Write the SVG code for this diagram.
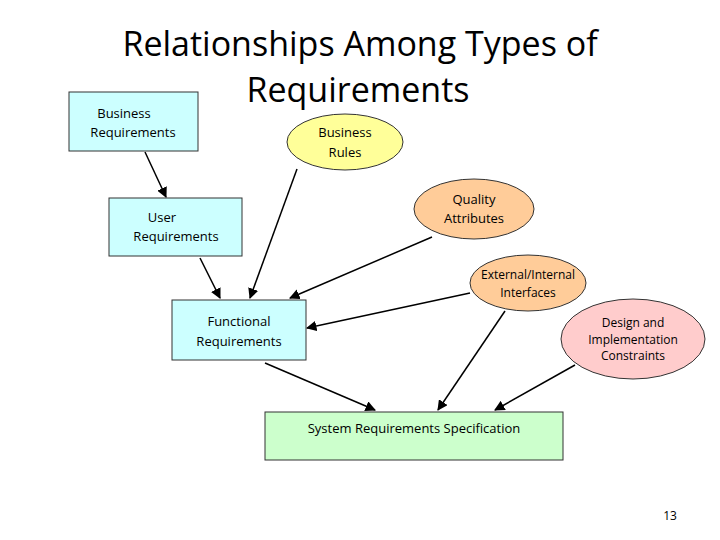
<svg xmlns="http://www.w3.org/2000/svg" width="720" height="540" viewBox="0 0 720 540">
<style>
text{font-family:"Open Sans","DejaVu Sans",sans-serif;fill:#000;text-anchor:middle}
.t{font-size:34px}
.n{font-size:13px}
.s{font-size:12px}
.b{stroke:#333;stroke-width:1}
line{stroke:#000;stroke-width:1.5;marker-end:url(#a)}
</style>
<defs><marker id="a" viewBox="0 0 10 10" refX="9" refY="5" markerWidth="7" markerHeight="7" orient="auto"><path d="M0,0L10,5L0,10z" fill="#000"/></marker></defs>
<rect width="720" height="540" fill="#fff"/>
<text class="t" x="360" y="56">Relationships Among Types of</text>
<text class="t" x="358" y="102">Requirements</text>
<g id="br"><rect class="b" x="69" y="92" width="129" height="59" fill="#ccffff"/><text class="n" x="124" y="118">Business</text><text class="n" x="133" y="137">Requirements</text></g>
<g id="rules"><ellipse class="b" cx="345" cy="142" rx="58" ry="28" fill="#ffff99"/><text class="n" x="345" y="137">Business</text><text class="n" x="345" y="157">Rules</text></g>
<g id="ur"><rect class="b" x="109" y="198" width="133" height="58" fill="#ccffff"/><text class="n" x="162" y="222">User</text><text class="n" x="176" y="241">Requirements</text></g>
<g id="qa"><ellipse class="b" cx="474" cy="209" rx="60" ry="30" fill="#ffcc99"/><text class="n" x="474" y="204">Quality</text><text class="n" x="474" y="223">Attributes</text></g>
<g id="ei"><ellipse class="b" cx="528" cy="283" rx="58" ry="28" fill="#ffcc99"/><text class="s" x="528" y="279">External/Internal</text><text class="s" x="528" y="297">Interfaces</text></g>
<g id="fr"><rect class="b" x="172" y="300" width="134" height="60" fill="#ccffff"/><text class="n" x="239" y="326">Functional</text><text class="n" x="239" y="346">Requirements</text></g>
<g id="dc"><ellipse class="b" cx="633" cy="339" rx="72" ry="40" fill="#ffcccc"/><text class="s" x="633" y="327">Design and</text><text class="s" x="633" y="344">Implementation</text><text class="s" x="633" y="360">Constraints</text></g>
<g id="srs"><rect class="b" x="265" y="412" width="298" height="48" fill="#ccffcc"/><text class="n" x="414" y="433">System Requirements Specification</text></g>
<text class="s" x="670" y="520">13</text>
<g id="connectors">
<line x1="145" y1="152" x2="166" y2="197"/>
<line x1="200" y1="258" x2="220" y2="298"/>
<line x1="297" y1="169" x2="250" y2="298"/>
<line x1="432" y1="237" x2="290" y2="298"/>
<line x1="470" y1="293" x2="307" y2="328"/>
<line x1="505" y1="311" x2="438" y2="410"/>
<line x1="575" y1="365" x2="495" y2="410"/>
<line x1="265" y1="363" x2="375" y2="410"/>
</g>
</svg>
